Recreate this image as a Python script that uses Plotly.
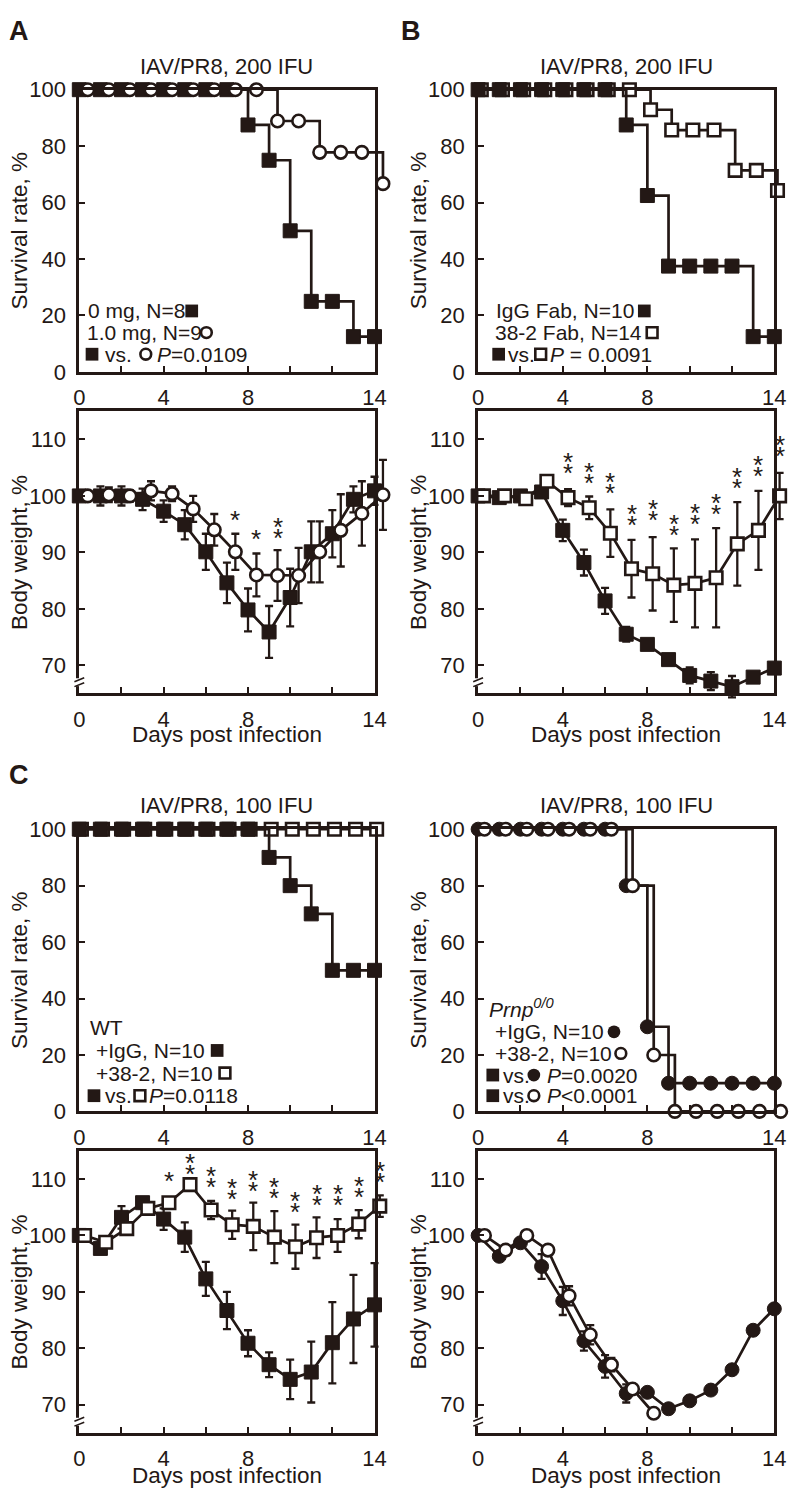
import plotly.graph_objects as go

W, H = 800, 1505
INK = '#231815'
FONT = 'Liberation Sans, Arial, Helvetica, sans-serif'

# ---------------- data ----------------
DAYS = [0, 1, 2, 3, 4, 5, 6, 7, 8, 9, 10, 11, 12, 13, 14]
X_TICKS = [0, 4, 8, 14]
X_LABELS = ['0', '4', '8', '14']
X_MINOR = [2, 6, 10, 12]
SURV_TICKS = [0, 20, 40, 60, 80, 100]
WT_TICKS = [70, 80, 90, 100, 110]

# A: 0 mg (filled square) vs 1.0 mg (open circle)
A_surv_sq = [100, 100, 100, 100, 100, 100, 100, 100, 87.5, 75, 50, 25, 25, 12.5, 12.5]
A_surv_ci = [100, 100, 100, 100, 100, 100, 100, 100, 100, 88.9, 88.9, 77.8, 77.8, 77.8, 66.7]
A_wt_sq = [100, 100, 100, 99.4, 97.3, 94.9, 90.1, 84.6, 79.8, 75.9, 82.0, 90.1, 93.3, 99.4, 100.9]
A_wt_sq_err = [0.5, 1.7, 1.7, 1.9, 1.9, 2.6, 3.2, 3.6, 3.8, 4.6, 5.1, 5.4, 4.2, 2.3, 2.5]
A_wt_ci = [100, 100.2, 100, 100.9, 100.4, 97.7, 94.0, 90.1, 86.0, 85.9, 85.9, 90.1, 93.9, 96.9, 100.2]
A_wt_ci_err = [0.3, 1.3, 1.0, 1.7, 1.3, 2.3, 2.8, 3.2, 3.8, 4.5, 4.9, 5.4, 6.4, 5.7, 6.2]
A_ast_x = [7.4, 8.4, 9.4]
A_ast_y = [96.8, 93.4, 95.5]
A_ast_n = [1, 1, 2]

# B: IgG Fab (filled square) vs 38-2 Fab (open square)
B_surv_sq = [100, 100, 100, 100, 100, 100, 100, 87.5, 62.5, 37.5, 37.5, 37.5, 37.5, 12.5, 12.5]
B_surv_op = [100, 100, 100, 100, 100, 100, 100, 100, 92.9, 85.7, 85.7, 85.7, 71.4, 71.4, 64.3]
B_wt_sq = [100, 99.7, 100, 100.7, 93.9, 88.2, 81.4, 75.5, 73.7, 71.0, 68.2, 67.2, 66.2, 67.9, 69.5]
B_wt_sq_err = [0.3, 0.5, 0.5, 0.5, 1.9, 2.3, 2.3, 1.3, 0.8, 0.8, 1.4, 1.6, 1.9, 0.5, 0.5]
B_wt_op = [100, 100, 99.5, 102.6, 99.7, 97.9, 93.4, 87.1, 86.2, 84.2, 84.5, 85.5, 91.5, 93.9, 100]
B_wt_op_err = [0.3, 0.5, 0.5, 0.7, 1.5, 2.0, 4.2, 5.1, 6.5, 6.5, 7.8, 8.8, 7.4, 7.0, 4.1]
B_ast_x = [4.25, 5.25, 6.25, 7.25, 8.25, 9.25, 10.25, 11.25, 12.25, 13.25, 14.25]
B_ast_y = [107.1, 105.3, 103.6, 97.8, 98.7, 96.1, 98.1, 99.8, 104.5, 106.5, 110.0]
B_ast_n = [2, 2, 2, 2, 2, 2, 2, 2, 2, 2, 2]

# C: WT +IgG (filled square) vs +38-2 (open square)
C_surv_sq = [100, 100, 100, 100, 100, 100, 100, 100, 100, 90, 80, 70, 50, 50, 50]
C_surv_op = [100, 100, 100, 100, 100, 100, 100, 100, 100, 100, 100, 100, 100, 100, 100]
C_wt_sq = [100, 97.7, 103.2, 105.8, 102.9, 99.7, 92.3, 86.7, 80.9, 77.1, 74.5, 75.8, 81.0, 85.2, 87.7]
C_wt_sq_err = [0.3, 1.0, 2.0, 1.0, 1.9, 2.6, 3.0, 3.3, 2.3, 2.2, 3.5, 5.4, 7.2, 7.8, 7.4]
C_wt_op = [100, 98.8, 101.2, 104.8, 105.8, 109.0, 104.5, 101.9, 101.6, 99.7, 98.0, 99.6, 100.0, 102.0, 105.2]
C_wt_op_err = [0.3, 0.5, 1.0, 0.5, 0.5, 0.8, 1.6, 2.5, 4.2, 4.6, 3.9, 3.6, 2.9, 2.5, 1.9]
C_ast_x = [4.25, 5.25, 6.25, 7.25, 8.25, 9.25, 10.25, 11.25, 12.25, 13.25, 14.25]
C_ast_y = [110.7, 113.9, 111.6, 109.4, 110.8, 109.6, 107.1, 108.4, 108.4, 109.9, 112.5]
C_ast_n = [1, 2, 2, 2, 2, 2, 2, 2, 2, 2, 2]

# D: Prnp0/0 +IgG (filled circle) vs +38-2 (open circle)
D_surv_fc = [100, 100, 100, 100, 100, 100, 100, 80, 30, 10, 10, 10, 10, 10, 10]
D_surv_oc = [100, 100, 100, 100, 100, 100, 100, 80, 20, 0, 0, 0, 0, 0, 0]
D_wt_fc = [100, 96.3, 98.7, 94.5, 88.4, 81.3, 76.8, 72.0, 72.2, 69.3, 70.7, 72.6, 76.2, 83.2, 87.0]
D_wt_fc_err = [0.3, 0.5, 0.5, 2.2, 2.5, 1.7, 2.0, 1.6, 0.5, 0.3, 0.3, 0.3, 0.3, 0.3, 0.3]
D_wt_days = [0, 1, 2, 3, 4, 5, 6, 7, 8]
D_wt_oc = [100, 97.4, 100, 97.4, 89.3, 82.4, 77.1, 72.8, 68.5]
D_wt_oc_err = [0.3, 0.5, 0.5, 0.5, 1.7, 1.7, 1.2, 0.8, 0.3]

# ---------------- geometry ----------------
COL = {'L': (75, 377), 'R': (483, 786)}
ROW = {'s1': (79, 366), 'w1': (406, 693), 's2': (831, 1118), 'w2': (1158, 1445)}
XPAD, YPAD = 13, 24

fig = go.Figure()
layout = dict(width=W, height=H, margin=dict(l=0, r=0, t=0, b=0),
              paper_bgcolor='white', plot_bgcolor='rgba(0,0,0,0)',
              showlegend=False, font=dict(family=FONT, size=21, color=INK),
              annotations=[], shapes=[])


def sfx(i):
    return '' if i == 1 else str(i)


def add_panel(i, col, row, yr, yticks):
    x0, x1 = COL[col]
    t, b = ROW[row]
    sx = (x1 - x0) / 14.0
    sy = (b - t) / float(yr[1] - yr[0])
    layout['xaxis' + sfx(i)] = dict(domain=[(x0 - XPAD) / W, (x1 + XPAD) / W],
                                   range=[-XPAD / sx, 14 + XPAD / sx], visible=False,
                                   anchor='y' + sfx(i), fixedrange=True)
    layout['yaxis' + sfx(i)] = dict(domain=[1 - (b + YPAD) / H, 1 - (t - YPAD) / H],
                                   range=[yr[0] - YPAD / sy, yr[1] + YPAD / sy], visible=False,
                                   anchor='x' + sfx(i), fixedrange=True)
    j = i + 8
    common = dict(showline=True, mirror=True, linewidth=3, linecolor=INK, ticks='inside',
                  ticklen=6, tickwidth=2, tickcolor=INK, showgrid=False, zeroline=False,
                  tickfont=dict(family=FONT, size=22, color=INK), fixedrange=True,
                  tickmode='array')
    layout['xaxis' + str(j)] = dict(common, domain=[x0 / W, x1 / W], range=[0, 14],
                                    anchor='y' + str(j), tickvals=X_TICKS, ticktext=X_LABELS,
                                    ticklabelstandoff=4,
                                    minor=dict(tickmode='array', tickvals=X_MINOR, ticks='inside',
                                               ticklen=6, tickwidth=2, tickcolor=INK,
                                               showgrid=False))
    layout['yaxis' + str(j)] = dict(common, domain=[1 - b / H, 1 - t / H], range=yr,
                                    anchor='x' + str(j), tickvals=yticks,
                                    ticktext=[str(v) for v in yticks], ticklabelstandoff=6)
    fig.add_trace(go.Scatter(x=[None], y=[None], xaxis='x' + str(j), yaxis='y' + str(j),
                             showlegend=False, hoverinfo='skip'))


SQ_F = dict(symbol='square', size=14, color=INK, line=dict(color=INK, width=1))
SQ_O = dict(symbol='square', size=12.5, color='white', line=dict(color=INK, width=2.6))
CI_F = dict(symbol='circle', size=14, color=INK, line=dict(color=INK, width=1))
CI_O = dict(symbol='circle', size=12.5, color='white', line=dict(color=INK, width=2.6))


def series(i, x, y, marker, shape='linear', err=None):
    d = dict(x=x, y=y, xaxis='x' + sfx(i), yaxis='y' + sfx(i), mode='lines+markers',
             line=dict(color=INK, width=2.7, shape=shape), marker=marker,
             cliponaxis=False, hoverinfo='skip', showlegend=False)
    if err is not None:
        d['error_y'] = dict(type='data', array=err, visible=True, color=INK,
                            thickness=2.3, width=4)
    fig.add_trace(go.Scatter(**d))


def shift(days, off):
    return [d + off for d in days]


def asterisks(i, xs, ys, ns):
    for x, y, n in zip(xs, ys, ns):
        for k in range(n):
            layout['annotations'].append(dict(
                x=x, y=y, xref='x' + sfx(i), yref='y' + sfx(i), text='*', showarrow=False,
                xanchor='center', yanchor='middle', yshift=-6 - 11 * k,
                font=dict(family=FONT, size=26, color=INK)))


def P(px, py):
    return px / W, 1 - py / H


def txt(px, py, s, size=21, xanchor='left', **kw):
    x, y = P(px, py)
    layout['annotations'].append(dict(x=x, y=y, xref='paper', yref='paper', text=s,
                                      showarrow=False, xanchor=xanchor, yanchor='middle',
                                      font=dict(family=FONT, size=size, color=INK), **kw))


def sym(px, py, kind):
    if kind in ('sq_f', 'ci_f'):
        s, lw, fill = 13, 0, INK
    else:
        s, lw, fill = 11, 2.6, 'white'
    x0, y1 = P(px - s / 2, py - s / 2)
    x1, y0 = P(px + s / 2, py + s / 2)
    layout['shapes'].append(dict(type='rect' if kind.startswith('sq') else 'circle',
                                 xref='paper', yref='paper', x0=x0, x1=x1, y0=y0, y1=y1,
                                 fillcolor=fill, line=dict(color=INK, width=lw), layer='above'))


def brk(col, row):
    x0 = COL[col][0]
    t, b = ROW[row]
    yc = t + (115 - 67) * (b - t) / 50.0
    a, c = P(x0 - 5, yc - 4)
    bb, d = P(x0 + 5, yc + 4)
    layout['shapes'].append(dict(type='rect', xref='paper', yref='paper', x0=a, x1=bb,
                                 y0=d, y1=c, fillcolor='white', line=dict(width=0)))
    for dy in (-2.5, 2.5):
        p0 = P(x0 - 5, yc + dy + 2)
        p1 = P(x0 + 5, yc + dy - 2)
        layout['shapes'].append(dict(type='line', xref='paper', yref='paper',
                                     x0=p0[0], y0=p0[1], x1=p1[0], y1=p1[1],
                                     line=dict(color=INK, width=1.6)))


# ---------------- panels ----------------
# data traces first (axes 1-8), frames after (axes 9-16)
series(1, DAYS, A_surv_sq, SQ_F, 'hv')
series(1, shift(DAYS, 0.4), A_surv_ci, CI_O, 'hv')

series(2, shift(DAYS, 0.15), B_surv_op, SQ_O, 'hv')
series(2, DAYS, B_surv_sq, SQ_F, 'hv')

series(3, DAYS, A_wt_sq, SQ_F, err=A_wt_sq_err)
series(3, shift(DAYS, 0.4), A_wt_ci, CI_O, err=A_wt_ci_err)

series(4, DAYS, B_wt_sq, SQ_F, err=B_wt_sq_err)
series(4, shift(DAYS, 0.25), B_wt_op, SQ_O, err=B_wt_op_err)

series(5, shift(DAYS, 0.1), C_surv_op, SQ_O, 'hv')
series(5, DAYS, C_surv_sq, SQ_F, 'hv')

series(6, DAYS, D_surv_fc, CI_F, 'hv')
series(6, shift(DAYS, 0.3), D_surv_oc, CI_O, 'hv')

series(7, DAYS, C_wt_sq, SQ_F, err=C_wt_sq_err)
series(7, shift(DAYS, 0.25), C_wt_op, SQ_O, err=C_wt_op_err)

series(8, DAYS, D_wt_fc, CI_F, err=D_wt_fc_err)
series(8, shift(D_wt_days, 0.3), D_wt_oc, CI_O, err=D_wt_oc_err)

add_panel(1, 'L', 's1', [0, 100], SURV_TICKS)
add_panel(2, 'R', 's1', [0, 100], SURV_TICKS)
add_panel(3, 'L', 'w1', [65, 115], WT_TICKS)
add_panel(4, 'R', 'w1', [65, 115], WT_TICKS)
add_panel(5, 'L', 's2', [0, 100], SURV_TICKS)
add_panel(6, 'R', 's2', [0, 100], SURV_TICKS)
add_panel(7, 'L', 'w2', [65, 115], WT_TICKS)
add_panel(8, 'R', 'w2', [65, 115], WT_TICKS)

asterisks(3, A_ast_x, A_ast_y, A_ast_n)
asterisks(4, B_ast_x, B_ast_y, B_ast_n)
asterisks(7, C_ast_x, C_ast_y, C_ast_n)

for col, row in (('L', 'w1'), ('R', 'w1'), ('L', 'w2'), ('R', 'w2')):
    brk(col, row)

# panel letters, titles, axis titles
txt(1, 19, '<b>A</b>', size=27)
txt(402, 19, '<b>B</b>', size=27)
txt(1, 776, '<b>C</b>', size=27)
CL, CR = (COL['L'][0] + COL['L'][1]) / 2, (COL['R'][0] + COL['R'][1]) / 2
txt(CL, 55, 'IAV/PR8, 200 IFU', size=22, xanchor='center')
txt(CR, 55, 'IAV/PR8, 200 IFU', size=22, xanchor='center')
txt(CL, 807, 'IAV/PR8, 100 IFU', size=22, xanchor='center')
txt(CR, 807, 'IAV/PR8, 100 IFU', size=22, xanchor='center')
for cx, row, label in ((14, 's1', 'Survival rate, %'), (422, 's1', 'Survival rate, %'),
                       (14, 'w1', 'Body weight, %'), (422, 'w1', 'Body weight, %'),
                       (14, 's2', 'Survival rate, %'), (422, 's2', 'Survival rate, %'),
                       (14, 'w2', 'Body weight, %'), (422, 'w2', 'Body weight, %')):
    t, b = ROW[row]
    txt(cx, (t + b) / 2, label, size=22.5, xanchor='center', textangle=-90)
for cx in (CL, CR):
    txt(cx, 735, 'Days post infection', size=22.5, xanchor='center')
    txt(cx, 1488, 'Days post infection', size=22.5, xanchor='center')

# legends (A)
txt(82, 304, '0 mg, N=8'); sym(190, 304, 'sq_f')
txt(81, 326, '1.0 mg, N=9'); sym(205, 326, 'ci_o')
sym(88, 348, 'sq_f'); txt(99, 348, 'vs.'); sym(143, 348, 'ci_o'); txt(152, 348, '<i>P</i>=0.0109')
# legends (B)
txt(499, 304, 'IgG Fab, N=10'); sym(653, 304, 'sq_f')
txt(498, 326, '38-2 Fab, N=14'); sym(661, 326, 'sq_o')
sym(504, 348, 'sq_f'); txt(511, 348, 'vs.'); sym(547, 348, 'sq_o'); txt(554, 348, '<i>P</i> = 0.0091')
# legends (C)
txt(84, 1033, 'WT')
txt(90, 1056, '+IgG, N=10'); sym(216, 1056, 'sq_f')
txt(90, 1079, '+38-2, N=10'); sym(224, 1079, 'sq_o')
sym(90, 1102, 'sq_f'); txt(99, 1102, 'vs.'); sym(137, 1102, 'sq_o'); txt(144, 1102, '<i>P</i>=0.0118')
# legends (D)
txt(492, 1013, '<i>Prnp</i><sup><i>0/0</i></sup>')
txt(498, 1037, '+IgG, N=10'); sym(622, 1037, 'ci_f')
txt(498, 1059, '+38-2, N=10'); sym(629, 1059, 'ci_o')
sym(498, 1081, 'sq_f'); txt(506, 1081, 'vs.'); sym(540, 1081, 'ci_f'); txt(551, 1081, '<i>P</i>=0.0020')
sym(498, 1102, 'sq_f'); txt(506, 1102, 'vs.'); sym(540, 1102, 'ci_o'); txt(551, 1102, '<i>P</i>&lt;0.0001')

fig.update_layout(**layout)
fig.write_html('out.html', config={'displayModeBar': False},
               post_script="document.body.style.margin='0px';document.body.style.overflow='hidden';")
